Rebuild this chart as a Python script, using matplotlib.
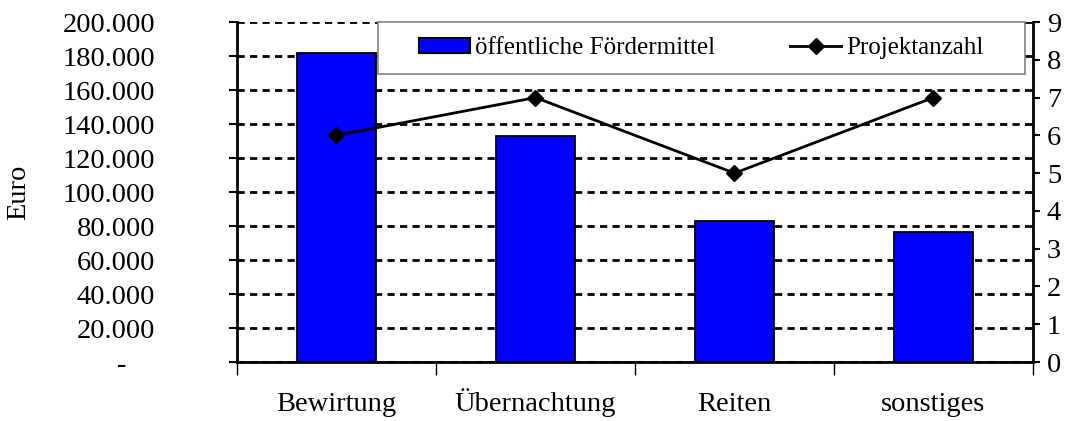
import matplotlib
matplotlib.use("Agg")
from matplotlib import pyplot as plt
from matplotlib.patches import Rectangle
from matplotlib.lines import Line2D

plt.rcParams['font.family'] = ['Liberation Serif', 'DejaVu Serif']

# data
categories = ['Bewirtung', 'Übernachtung', 'Reiten', 'sonstiges']
foerdermittel = [182000, 133000, 83000, 76500]   # Euro, left axis
projektanzahl = [6, 7, 5, 7]                      # right axis
left_ticks = list(range(0, 200001, 20000))
right_ticks = list(range(0, 10))


def euro_fmt(v):
    if v == 0:
        return '-    '
    return '{:,.0f}'.format(v).replace(',', '.')


fig = plt.figure(figsize=(10.69, 4.21), dpi=100)
ax = fig.add_axes([0.2217, 0.1401, 0.7446, 0.8076])
ax2 = ax.twinx()

x = list(range(len(categories)))

# bars (left axis)
ax.bar(x, foerdermittel, width=0.4, color='#0000FF', edgecolor='black',
       linewidth=1.3, zorder=3)
ax.set_xlim(-0.5, len(categories) - 0.5)
ax.set_ylim(0, 200000)
ax.set_yticks(left_ticks)
ax.set_yticklabels([euro_fmt(v) for v in left_ticks], fontsize=20.5)
ax.tick_params(axis='y', direction='out', length=6, width=1.5, pad=53)
ax.yaxis.grid(True, color='black', linewidth=2.0, linestyle=(0, (2.6, 1.9)),
              zorder=1)
ax.set_axisbelow(True)
ax.set_ylabel('Euro', fontsize=20.5)
ax.yaxis.set_label_coords(-0.258, 0.5)

# category boundaries as major ticks, names as minor ticks
ax.set_xticks([i - 0.5 for i in range(len(categories) + 1)])
ax.set_xticklabels([])
ax.set_xticks(x, minor=True)
ax.set_xticklabels(categories, minor=True, fontsize=20.5)
ax.tick_params(axis='x', which='major', direction='out', length=9, width=1)
ax.tick_params(axis='x', which='minor', length=0, pad=35)
for lab in ax.get_xticklabels(minor=True):
    lab.set_verticalalignment('baseline')

ax.spines['top'].set_visible(False)
ax.spines['left'].set_linewidth(2)
ax.spines['bottom'].set_linewidth(2)
ax.spines['right'].set_visible(False)

# line (right axis)
ax2.plot(x, projektanzahl, color='black', linewidth=2.0, marker='D',
         markersize=8, zorder=4)
ax2.set_ylim(0, 9)
ax2.set_yticks(right_ticks)
ax2.set_yticklabels([str(v) for v in right_ticks], fontsize=20.5)
ax2.tick_params(axis='y', direction='out', length=5, width=1.5, pad=5)
ax2.spines['top'].set_visible(False)
ax2.spines['left'].set_visible(False)
ax2.spines['bottom'].set_visible(False)
ax2.spines['right'].set_linewidth(2)

# legend box
ax2.add_patch(Rectangle((0.177, 0.847), 0.813, 0.153, transform=ax2.transAxes,
                        facecolor='white', edgecolor='#808080', linewidth=1.2,
                        zorder=5, clip_on=False))
handles = [Rectangle((0, 0), 1, 1, facecolor='#0000FF', edgecolor='black',
                     linewidth=1.5),
           Line2D([], [], color='black', linewidth=2.0, marker='D',
                  markersize=8)]
leg = ax2.legend(handles, ['öffentliche Fördermittel', 'Projektanzahl'],
                 loc='center', bbox_to_anchor=(0.583, 0.9235), ncol=2,
                 frameon=False, fontsize=18, handlelength=2.05,
                 handleheight=0.56, handletextpad=0.2, columnspacing=3.0,
                 borderpad=0, borderaxespad=0)
leg.set_zorder(6)

fig.savefig('out.png', dpi=100)
